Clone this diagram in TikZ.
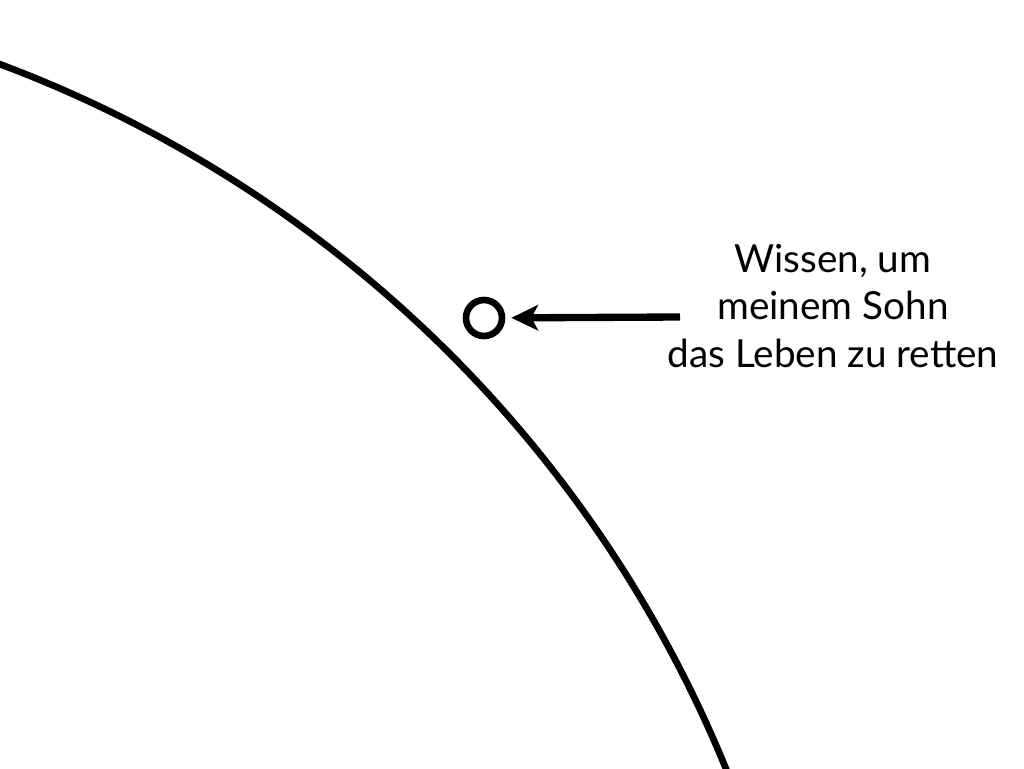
\documentclass[tikz,border=0pt]{standalone}
\usepackage{fontspec}
\setmainfont{Lato}
\usetikzlibrary{arrows.meta}
\begin{document}
\begin{tikzpicture}[x=0.75pt,y=0.75pt,
  heavy/.style={line width=5pt,black},
  dotstyle/.style={circle,draw,line width=5pt,minimum size=27pt,inner sep=0pt},
  pointer/.style={line width=5.5pt,-{Stealth[length=20pt,width=19pt,inset=5pt]},shorten >=4.5pt},
  label/.style={align=center,font=\fontsize{29}{35.6}\selectfont,inner sep=0pt}]
\useasboundingbox (0,0) rectangle (1024,768);
\begin{scope}
\clip (0,0) rectangle (1024,768);
\draw[heavy] (-443,-479) ++(75:1263) arc[start angle=75,end angle=15,radius=1263];
\end{scope}
\node[dotstyle] (dot) at (484,450) {};
\node[label] (txt) at (833,462) {Wissen, um\\meinem Sohn\\das Leben zu retten};
\coordinate (tail) at (680,451);
\draw[pointer] (tail) -- (dot);
\end{tikzpicture}
\end{document}
